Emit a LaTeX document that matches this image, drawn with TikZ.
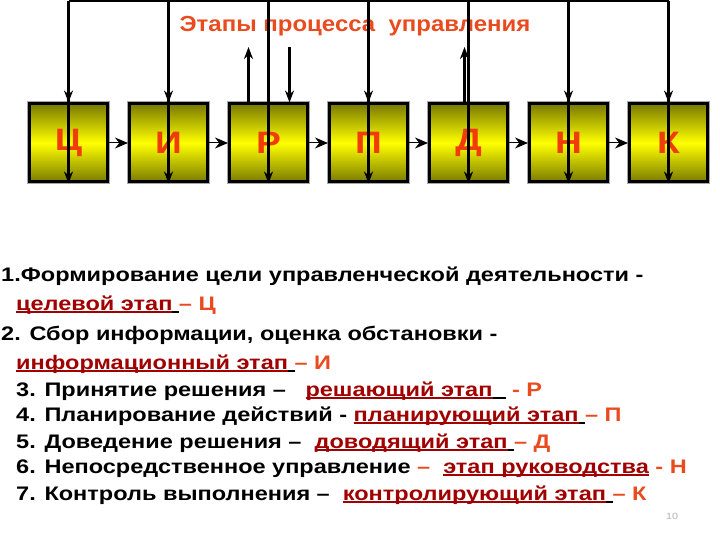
\documentclass[tikz,border=0pt]{standalone}
\usepackage{fontspec}
\setmainfont{Liberation Sans}[FakeStretch=1.2]
\newfontfamily\titlefont{Liberation Sans}[FakeStretch=1.1]
\usetikzlibrary{arrows.meta, positioning}
\definecolor{StageOlive}{HTML}{7A7A00}
\definecolor{StageYellow}{HTML}{FFFF00}
\definecolor{StageRed}{HTML}{F03C0A}
\definecolor{TitleRed}{HTML}{E94B1E}
\definecolor{TermRed}{HTML}{A00000}
\newcommand{\term}[1]{\setbox0=\hbox{#1}\rlap{\rule[-3pt]{\wd0}{1.6pt}}\box0}

\begin{document}
\begin{tikzpicture}[x=1pt, y=-1pt, node distance=100pt, on grid,
    stage/.style={rectangle, minimum width=78pt, minimum height=78pt, draw=black, line width=3pt,
      top color=StageOlive, bottom color=StageOlive, middle color=StageYellow,
      preaction={draw=gray!70, line width=5pt},
      font=\fontsize{31}{31}\selectfont\bfseries, text=StageRed},
    feed/.style={-{Stealth[length=12pt, width=9pt]}, line width=2.2pt},
    link/.style={-{Stealth[length=13pt, width=11pt]}, line width=1pt},
    item/.style={anchor=base west, inner sep=0pt, font=\fontsize{19.6}{19.6}\selectfont\bfseries}]

    \useasboundingbox (0,0) rectangle (720,540);

    \node[font=\titlefont\fontsize{21.8}{21.8}\selectfont\bfseries, text=TitleRed] (title) at (355,26) {Этапы процесса\ \ управления};

    \node[stage] (Ts) at (68.5,143) {Ц};
    \node[stage, right=of Ts] (I) {И};
    \node[stage, right=of I] (R) {Р};
    \node[stage, right=of R] (P) {П};
    \node[stage, right=of P] (D) {Д};
    \node[stage, right=of D] (N) {Н};
    \node[stage, right=of N] (K) {К};

    \coordinate (top) at (0,1);
    \coordinate (mid) at (0,47);
    \coordinate[left=20pt of R.north] (Rup);
    \coordinate[right=21pt of R.north] (Rdown);
    \coordinate[left=4pt of D.north] (Dup);

    \draw[line width=2pt] (Ts.center |- top) -- (K.center |- top);
    \foreach \s in {Ts,I,R,P,D,N,K}
        \draw[feed] (\s.center |- top) -- (\s.south);
    \foreach \s in {Ts,I,P,N,K}
        \draw[feed, line width=2.8pt] (\s.center |- mid) -- (\s.north);
    \draw[feed] (Rup) -- (Rup |- mid);
    \draw[feed] (Rdown |- mid) -- (Rdown);
    \draw[feed] (Dup) -- (Dup |- mid);
    \foreach \a/\b in {Ts/I, I/R, R/P, P/D, D/N, N/K}
        \draw[link] (\a) -- (\b);

    % stage list
    \node[item] (l1) at (1,281) {1.Формирование цели управленческой деятельности -};
    \node[item] (l2) at (16,310) {{\color{TermRed}\term{целевой этап}}\term{\ }{\color{TitleRed}– Ц}};
    \node[item] (l3) at (1,340) {2. Сбор информации, оценка обстановки -};
    \node[item] (l4) at (16,369) {{\color{TermRed}\term{информационный этап}}\term{\ }{\color{TitleRed}– И}};
    \node[item] (l5) at (16,396) {3. Принятие решения –\ \ \ {\color{TermRed}\term{решающий этап}}\term{\ \ }\ {\color{TitleRed}- Р}};
    \node[item] (l6) at (16,421) {4. Планирование действий - {\color{TermRed}\term{планирующий этап}}\term{\ }{\color{TitleRed}– П}};
    \node[item] (l7) at (16,448) {5. Доведение решения –\ \ {\color{TermRed}\term{доводящий этап}}\term{\ }{\color{TitleRed}– Д}};
    \node[item] (l8) at (16,473) {6. Непосредственное управление {\color{TitleRed}–}\ \ {\color{TermRed}\term{этап руководства}} {\color{TitleRed}- Н}};
    \node[item] (l9) at (16,500) {7. Контроль выполнения –\ \ {\color{TermRed}\term{контролирующий этап}}\term{\ }{\color{TitleRed}– К}};

    \node[font=\fontsize{9}{9}\selectfont, text=gray!60] (num) at (672,516) {10};
\end{tikzpicture}
\end{document}
